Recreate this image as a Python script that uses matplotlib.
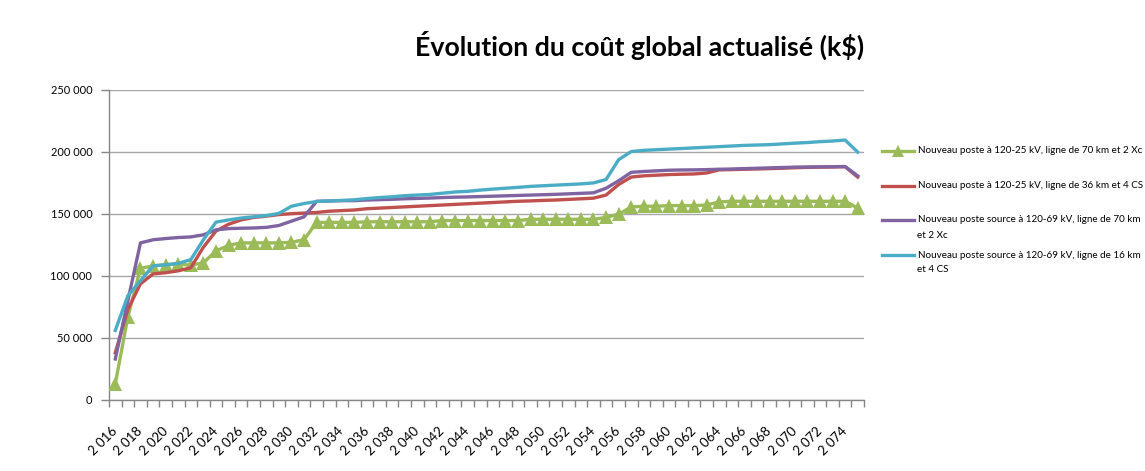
import matplotlib
matplotlib.use("Agg")
import matplotlib.pyplot as plt
from matplotlib.lines import Line2D
from matplotlib.ticker import FuncFormatter
from matplotlib.transforms import ScaledTranslation

plt.rcParams['font.family'] = ['Lato', 'DejaVu Sans']

years = list(range(2016, 2076))

green = [13000, 67000, 106000, 108000, 109000, 109500, 108500, 110500, 120000, 124500,
         126500, 126500, 126500, 126500, 127000, 129000, 143000, 143000, 143000, 143000,
         143500, 143500, 143500, 143500, 143500, 143500, 144500, 144500, 144500, 144500,
         144500, 144500, 144500, 145500, 145500, 145500, 145500, 145500, 145500, 147000,
         149500, 155500, 156000, 156000, 156500, 156500, 156500, 157000, 159500, 160000,
         160000, 160000, 160000, 160000, 160000, 160000, 160000, 160000, 160000, 154500]

red = [38000, 73000, 93500, 101500, 102500, 104000, 106500, 123000, 136000, 141500,
       145000, 147000, 148000, 149300, 150000, 150500, 151000, 152000, 152500, 153000,
       154000, 154500, 155000, 155500, 156000, 156500, 157000, 157500, 158000, 158500,
       159000, 159500, 160000, 160300, 160700, 161000, 161500, 162000, 162500, 165000,
       173500, 179500, 180500, 181000, 181500, 181800, 182000, 182800, 185300, 185500,
       185800, 186000, 186300, 186600, 187000, 187300, 187500, 187600, 187800, 179500]

purple = [33000, 80000, 126500, 129000, 130000, 130800, 131300, 133000, 137000, 138000,
          138300, 138500, 139000, 140500, 144000, 147500, 160000, 160200, 160500, 160500,
          161000, 161300, 161600, 162000, 162300, 162600, 163000, 163300, 163500, 163800,
          164100, 164400, 164700, 165000, 165300, 165600, 166000, 166400, 166800, 170500,
          176500, 183300, 184000, 184500, 185000, 185200, 185300, 185500, 185800, 186000,
          186300, 186600, 186900, 187200, 187500, 187600, 187700, 187800, 188000, 180500]

cyan = [56000, 84000, 96000, 108000, 108800, 110000, 113000, 129000, 143200, 145000,
        146500, 147500, 148500, 150200, 156000, 158200, 159800, 160300, 160700, 161200,
        162200, 163000, 163600, 164500, 165000, 165500, 166500, 167500, 168000, 169000,
        169800, 170500, 171200, 172000, 172500, 173000, 173500, 174000, 174800, 177500,
        193500, 200000, 201000, 201500, 202000, 202500, 203000, 203500, 204000, 204500,
        205000, 205300, 205600, 206200, 206800, 207300, 208000, 208500, 209300, 199600]

labels = [["Nouveau poste à 120-25 kV, ligne de 70 km et 2 Xc"],
          ["Nouveau poste à 120-25 kV, ligne de 36 km et 4 CS"],
          ["Nouveau poste source à 120-69 kV, ligne de 70 km", "et 2 Xc"],
          ["Nouveau poste source à 120-69 kV, ligne de 16 km", "et 4 CS"]]
colors = ["#9BBB59", "#C0504D", "#8064A2", "#4BACC6"]
title = "Évolution du coût global actualisé (k$)"
yticks = [0, 50000, 100000, 150000, 200000, 250000]

W, H = 1145, 471
fig = plt.figure(figsize=(W / 100, H / 100), dpi=100)
ax = fig.add_axes([109 / W, 71 / H, (864 - 109) / W, (400 - 89.5) / H])

x = list(range(len(years)))
series = [green, red, purple, cyan]
for i, (s, c) in enumerate(zip(series, colors)):
    if i == 0:
        ax.plot(x, s, color=c, lw=2.4, marker='^', markersize=9.5, markeredgewidth=0,
                zorder=3, solid_joinstyle='round')
    else:
        ax.plot(x, s, color=c, lw=2.4, zorder=3 + i, solid_joinstyle='round')

ax.set_xlim(-0.5, len(years) - 0.5)
ax.set_ylim(0, 250000)
ax.set_yticks(yticks)
ax.yaxis.set_major_formatter(FuncFormatter(lambda v, p: f"{int(v):,}".replace(",", " ")))
ax.grid(axis='y', color='#A6A6A6', lw=1)
ax.set_axisbelow(True)

ax.set_xticks(x[::2])
ax.set_xticklabels([f"{y:,}".replace(",", " ") for y in years[::2]], rotation=45,
                   ha='right', va='center', rotation_mode='anchor', fontsize=9.5)
shift = ScaledTranslation(-13 / 100, 0, fig.dpi_scale_trans)
for lab in ax.get_xticklabels():
    lab.set_transform(lab.get_transform() + shift)
ax.set_xticks([i - 0.5 for i in range(len(years) + 1)], minor=True)
ax.tick_params(axis='x', which='major', length=0, pad=21)
ax.tick_params(axis='x', which='minor', length=5, color='#868686', width=1)
ax.tick_params(axis='y', length=6, color='#868686', width=1, labelsize=7.9, pad=6)

for side in ['top', 'right']:
    ax.spines[side].set_visible(False)
for side in ['left', 'bottom']:
    ax.spines[side].set_color('#868686')
    ax.spines[side].set_linewidth(1)

fig.text(640 / W, 1 - 45 / H, title, ha='center', va='center', fontsize=19.3, weight='bold')

# legend (manual layout at the right edge); sample line aligned with first text line
first_y = [151, 185.7, 220, 255]
for lines, c, fy, i in zip(labels, colors, first_y, range(4)):
    yf = 1 - fy / H
    fig.add_artist(Line2D([882 / W, 914 / W], [yf, yf], color=c, lw=2.4,
                          transform=fig.transFigure))
    if i == 0:
        fig.add_artist(Line2D([898 / W], [yf], color=c, marker='^', markersize=8,
                              markeredgewidth=0, transform=fig.transFigure))
    for k, t in enumerate(lines):
        fig.text(918 / W if k == 0 else 917 / W, 1 - (fy + 15 * k) / H, t,
                 ha='left', va='center', fontsize=7.15)

fig.savefig("out.png", dpi=100)
